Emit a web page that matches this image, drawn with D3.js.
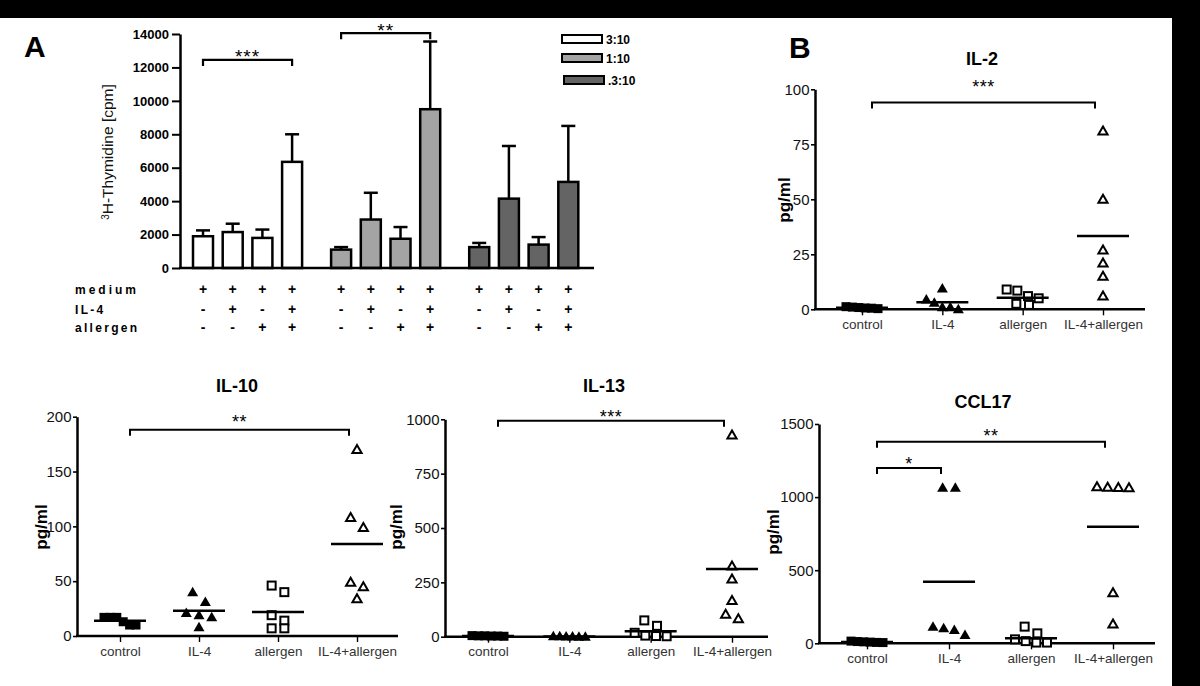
<!DOCTYPE html>
<html><head><meta charset="utf-8">
<script src="https://cdn.jsdelivr.net/npm/d3@7"></script>
<style>body{margin:0;background:#fff;} svg{display:block;font-family:"Liberation Sans",Arial,sans-serif;}</style>
</head><body><svg id="c" width="1200" height="686"></svg>
<script>
// ---------- Panel A data ----------
const ratioGroups = ["3:10", "1:10", ".3:10"];
const conditionRows = ["medium", "IL-4", "allergen"];
const condMedium = ["+", "+", "+", "+"];
const condIL4 = ["-", "+", "-", "+"];
const condAllergen = ["-", "-", "+", "+"];
const thymMean3 = [1900, 2150, 1800, 6350];
const thymMean1 = [1100, 2900, 1750, 9500];
const thymMean03 = [1250, 4150, 1400, 5150];
const thymErr3 = [350, 500, 500, 1650];
const thymErr1 = [150, 1600, 700, 4050];
const thymErr03 = [250, 3150, 450, 3350];
const thymTicks = [0, 2000, 4000, 6000, 8000, 10000, 12000, 14000];
const thymSig = [{group: 0, from: 0, to: 3, level: 12450, labelAt: 12920, label: "***"},
                 {group: 1, from: 0, to: 3, level: 14050, labelAt: 14480, label: "**"}];

// ---------- Cytokine data ----------
const categories = ["control", "IL-4", "allergen", "IL-4+allergen"];
const il2Values = [[0.5, 1.0, 0.3, 0.8, 1.2, 0.6], [9.5, 4.5, 3.0, 0.9, 0.9, 0.0], [9.0, 8.5, 6.0, 5.0, 2.0, 2.5], [81, 50, 27, 21, 15, 6]];
const il2Means = [0.7, 3.2, 5.3, 33.3];
const il2Ticks = [0, 25, 50, 75, 100];
const il2Sig = [{from: 0, to: 3, level: 94, labelAt: 103, label: "***"}];

const il10Values = [[13, 17, 10, 17, 10, 17], [40, 31, 19, 21, 17, 8], [46, 40, 19, 14, 7, 7], [170, 99, 108, 49, 45, 34]];
const il10Means = [14, 23, 22, 84];
const il10Ticks = [0, 50, 100, 150, 200];
const il10Sig = [{from: 0, to: 3, level: 188, labelAt: 199, label: "**"}];

const il13Values = [[4, 3, 5, 2, 4, 3], [2, 1, 0, 1, 2, 0], [75, 50, 18, 5, 3, 2], [928, 325, 265, 166, 103, 82]];
const il13Means = [3, 1, 25, 311];
const il13Ticks = [0, 250, 500, 750, 1000];
const il13Sig = [{from: 0, to: 3, level: 993, labelAt: 1029, label: "***"}];

const ccl17Values = [[10, 5, 15, 8, 12, 6], [1064, 1064, 103, 114, 91, 57], [114, 68, 27, 15, 5, 5], [1064, 1066, 1068, 1070, 346, 132]];
const ccl17Means = [9, 421, 34, 798];
const ccl17Ticks = [0, 500, 1000, 1500];
const ccl17Sig = [{from: 0, to: 3, level: 1379, labelAt: 1445, label: "**"},
                  {from: 0, to: 1, level: 1199, labelAt: 1254, label: "*"}];

// ---------- drawing ----------
const FONT = "'Liberation Sans', Arial, sans-serif";
const svg = d3.select("#c");
svg.append("rect").attr("width", 1200).attr("height", 686).attr("fill", "#fff");

// ===== Panel A =====
const thymMeans = [thymMean3, thymMean1, thymMean03];
const thymErrs = [thymErr3, thymErr1, thymErr03];
const barFills = ["#ffffff", "#a4a4a4", "#646464"];
const yA = d3.scaleLinear().domain([0, 14000]).range([268, 34]);
const slot = d3.scaleLinear().domain([0, 1]).range([203, 232.7]);
const groupStride = 4.65;
const barW = 20;
const bx = (g, i) => slot(g * groupStride + i);

const gA = svg.append("g");
ratioGroups.forEach((grp, g) => {
  thymMeans[g].forEach((v, i) => {
    const cx = bx(g, i);
    const top = yA(v), etop = yA(v + thymErrs[g][i]);
    gA.append("line").attr("x1", cx).attr("x2", cx).attr("y1", top).attr("y2", etop)
      .attr("stroke", "#000").attr("stroke-width", 2.5);
    gA.append("line").attr("x1", cx - 7).attr("x2", cx + 7).attr("y1", etop).attr("y2", etop)
      .attr("stroke", "#000").attr("stroke-width", 2.5);
    gA.append("rect").attr("x", cx - barW / 2).attr("y", top).attr("width", barW)
      .attr("height", yA(0) - top).attr("fill", barFills[g]).attr("stroke", "#000").attr("stroke-width", 2.5);
  });
});
// axes
const axA = d3.axisLeft(yA).tickValues(thymTicks).tickSize(8).tickSizeOuter(0).tickPadding(3).tickFormat(d3.format("d"));
const gAy = svg.append("g").attr("transform", "translate(180,0)").call(axA).attr("font-family", FONT);
gAy.select(".domain").attr("stroke-width", 2.5).attr("stroke", "#000");
gAy.selectAll(".tick line").attr("stroke-width", 2).attr("stroke", "#000");
gAy.selectAll(".tick text").attr("font-size", 13).attr("font-weight", "bold").attr("fill", "#000");
svg.append("line").attr("x1", 179).attr("x2", 594).attr("y1", yA(0)).attr("y2", yA(0))
  .attr("stroke", "#000").attr("stroke-width", 2.5);
// y label
const ylA = svg.append("text").attr("transform", "translate(113,152) rotate(-90)")
  .attr("text-anchor", "middle").attr("font-size", 15.5).attr("fill", "#111").attr("font-family", FONT);
ylA.append("tspan").attr("font-size", 10).attr("dy", "-0.45em").text("3");
ylA.append("tspan").attr("dy", "0.3em").text("H-Thymidine [cpm]");
// panel letter
svg.append("text").attr("x", 24).attr("y", 57).attr("font-size", 30).attr("font-weight", "bold").text("A");
// brackets A
thymSig.forEach(s => {
  const x1 = bx(s.group, s.from), x2 = bx(s.group, s.to), y = yA(s.level);
  svg.append("path").attr("d", `M${x1},${y + 6}V${y}H${x2}V${y + 6}`).attr("fill", "none")
    .attr("stroke", "#000").attr("stroke-width", 2.2);
  svg.append("text").attr("x", (x1 + x2) / 2).attr("y", yA(s.labelAt) + 11).attr("text-anchor", "middle")
    .attr("font-size", 19).attr("letter-spacing", 1).text(s.label);
});
// legend
ratioGroups.forEach((grp, g) => {
  const ly = [35, 54, 76][g], lx = g === 2 ? 564 : 562;
  svg.append("rect").attr("x", lx).attr("y", ly).attr("width", 40).attr("height", 8)
    .attr("fill", barFills[g]).attr("stroke", "#000").attr("stroke-width", 2);
  svg.append("text").attr("x", lx + 44).attr("y", ly + 8.5).attr("font-size", 12).attr("font-weight", "bold").text(grp);
});
// condition table
const condRows = [condMedium, condIL4, condAllergen];
conditionRows.forEach((name, r) => {
  const ty = [294, 314, 332][r];
  svg.append("text").attr("x", 75).attr("y", ty).attr("font-size", 12).attr("font-weight", "bold")
    .attr("letter-spacing", r === 0 ? 3 : 2.3).text(name);
  ratioGroups.forEach((grp, g) => {
    condRows[r].forEach((sym, i) => {
      svg.append("text").attr("x", bx(g, i)).attr("y", ty).attr("text-anchor", "middle")
        .attr("font-size", 14).attr("font-weight", "bold").text(sym);
    });
  });
});

// ===== Scatter panels =====
function layoutRows(vals, y, cx) {
  const order = vals.map((v, i) => i).sort((a, b) => vals[b] - vals[a]);
  const rows = [];
  order.forEach(i => {
    const py = y(vals[i]);
    const r = rows[rows.length - 1];
    if (r && Math.abs(py - r.y0) < 10) r.items.push(i); else rows.push({y0: py, items: [i]});
  });
  const out = [];
  rows.forEach(r => {
    const n = r.items.length;
    const step = n > 1 ? Math.min(12.7, 32 / (n - 1)) : 0;
    r.items.forEach((i, k) => { out[i] = {x: cx + (k - (n - 1) / 2) * step, y: y(vals[i])}; });
  });
  return out;
}
const markerTypes = ["sqFill", "triFill", "sqOpen", "triOpen"];
function marker(g, type, x, y) {
  if (type === "sqFill") g.append("rect").attr("x", x - 4.5).attr("y", y - 4.5).attr("width", 9).attr("height", 9).attr("fill", "#000");
  else if (type === "sqOpen") g.append("rect").attr("x", x - 4).attr("y", y - 4).attr("width", 8).attr("height", 8)
    .attr("fill", "#fff").attr("stroke", "#000").attr("stroke-width", 2);
  else if (type === "triFill") g.append("path").attr("d", `M${x},${y - 5.5}L${x + 5.5},${y + 4}L${x - 5.5},${y + 4}Z`).attr("fill", "#000");
  else g.append("path").attr("d", `M${x},${y - 4.5}L${x + 4.6},${y + 3.5}L${x - 4.6},${y + 3.5}Z`)
    .attr("fill", "#fff").attr("stroke", "#000").attr("stroke-width", 2).attr("stroke-linejoin", "miter");
}

function drawScatter(c) {
  const top = c.ticks[c.ticks.length - 1];
  const y = d3.scaleLinear().domain([0, top]).range([c.yBottom, c.yTop]);
  const x = d3.scalePoint().domain(categories).range([c.c0, c.c1]);
  const g = svg.append("g");
  const gy = g.append("g").attr("transform", `translate(${c.x0},0)`)
    .call(d3.axisLeft(y).tickValues(c.ticks).tickSize(4).tickSizeOuter(0).tickPadding(1.5).tickFormat(d3.format("d")))
    .attr("font-family", FONT);
  gy.select(".domain").attr("stroke", "#000").attr("stroke-width", 2.5);
  gy.selectAll(".tick line").attr("stroke", "#000").attr("stroke-width", 1.6);
  gy.selectAll(".tick text").attr("font-size", 15).attr("fill", "#111");
  const gx = g.append("g").attr("transform", `translate(0,${c.yBottom})`)
    .call(d3.axisBottom(x).tickSize(6).tickPadding(4)).attr("font-family", FONT);
  gx.select(".domain").remove();
  gx.selectAll(".tick line").attr("stroke", "#000").attr("stroke-width", 1.4);
  gx.selectAll(".tick text").attr("font-size", 13.5).attr("fill", "#333");
  g.append("line").attr("x1", c.x0 - 1).attr("x2", c.x1).attr("y1", c.yBottom).attr("y2", c.yBottom)
    .attr("stroke", "#000").attr("stroke-width", 2.5);
  c.values.forEach((vals, ci) => {
    const cx = x(categories[ci]);
    layoutRows(vals, y, cx).forEach(p => marker(g, markerTypes[ci], p.x, p.y));
    const my = y(c.means[ci]);
    g.append("line").attr("x1", cx - 26).attr("x2", cx + 26).attr("y1", my).attr("y2", my)
      .attr("stroke", "#000").attr("stroke-width", 2.5);
  });
  c.sig.forEach(s => {
    const x1 = x(categories[s.from]) + 10, x2 = x(categories[s.to]) - 8, yy = y(s.level);
    g.append("path").attr("d", `M${x1},${yy + 6}V${yy}H${x2}V${yy + 6}`).attr("fill", "none")
      .attr("stroke", "#000").attr("stroke-width", 2);
    g.append("text").attr("x", (x1 + x2) / 2).attr("y", y(s.labelAt) + 10).attr("text-anchor", "middle")
      .attr("font-size", 18).attr("letter-spacing", 0.5).text(s.label);
  });
  g.append("text").attr("x", c.titleX).attr("y", c.titleY).attr("text-anchor", "middle")
    .attr("font-size", 18).attr("font-weight", "bold").text(c.title);
  g.append("text").attr("transform", `translate(${c.ylX},${c.ylY}) rotate(-90)`).attr("dy", "0.3em")
    .attr("text-anchor", "middle").attr("font-size", 17).attr("font-weight", "bold").text("pg/ml");
}

drawScatter({values: il2Values, means: il2Means, ticks: il2Ticks, sig: il2Sig, title: "IL-2",
  x0: 815, x1: 1145, c0: 862, c1: 1103, yBottom: 309.3, yTop: 89.3, titleX: 982, titleY: 65, ylX: 785, ylY: 200});
drawScatter({values: il10Values, means: il10Means, ticks: il10Ticks, sig: il10Sig, title: "IL-10",
  x0: 77, x1: 398, c0: 120, c1: 357, yBottom: 636, yTop: 416.7, titleX: 237, titleY: 392, ylX: 42, ylY: 527});
drawScatter({values: il13Values, means: il13Means, ticks: il13Ticks, sig: il13Sig, title: "IL-13",
  x0: 445, x1: 768, c0: 488, c1: 732, yBottom: 636.7, yTop: 419.3, titleX: 604, titleY: 392, ylX: 397, ylY: 527});
drawScatter({values: ccl17Values, means: ccl17Means, ticks: ccl17Ticks, sig: ccl17Sig, title: "CCL17",
  x0: 819, x1: 1155, c0: 867, c1: 1113, yBottom: 643.3, yTop: 424, titleX: 983, titleY: 408, ylX: 774, ylY: 532});

svg.append("text").attr("x", 789).attr("y", 58).attr("font-size", 30).attr("font-weight", "bold").text("B");

// black borders of the scanned figure
svg.append("rect").attr("x", 0).attr("y", 0).attr("width", 1200).attr("height", 18).attr("fill", "#000");
svg.append("rect").attr("x", 1172).attr("y", 0).attr("width", 28).attr("height", 686).attr("fill", "#000");
</script></body></html>
